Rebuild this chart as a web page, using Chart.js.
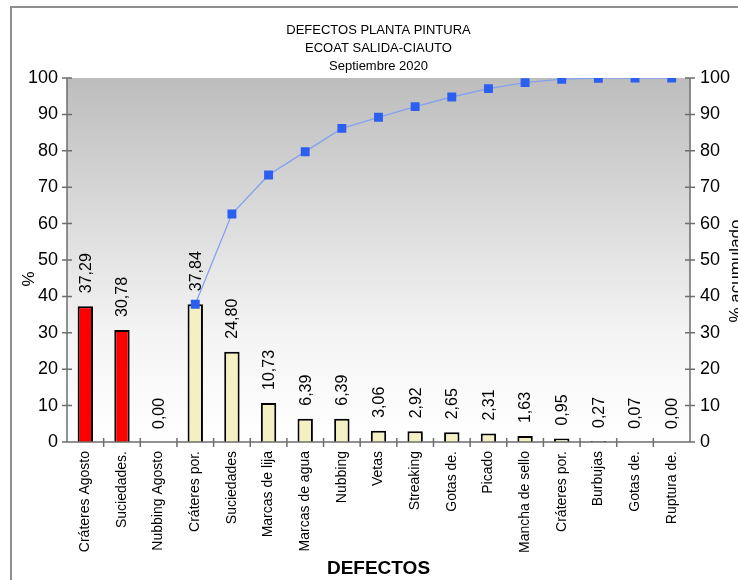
<!DOCTYPE html>
<html>
<head>
<meta charset="utf-8">
<script src="https://cdn.jsdelivr.net/npm/chart.js@4/dist/chart.umd.min.js"></script>
<style>
  html, body { margin: 0; padding: 0; background: #ffffff; }
  canvas { display: block; }
</style>
</head>
<body>
<canvas id="pareto" width="738" height="580"></canvas>
<script>
// Defect categories along the x axis
const categories = [
  'Cráteres Agosto', 'Suciedades.', 'Nubbing Agosto',
  'Cráteres por.', 'Suciedades', 'Marcas de lija', 'Marcas de agua', 'Nubbing',
  'Vetas', 'Streaking', 'Gotas de.', 'Picado', 'Mancha de sello',
  'Cráteres por.', 'Burbujas', 'Gotas de.', 'Ruptura de.'
];

// August reference values (first three categories), %
const agosto = [37.29, 30.78, 0.00];

// September values (remaining categories), %
const septiembre = [37.84, 24.80, 10.73, 6.39, 6.39, 3.06, 2.92, 2.65, 2.31, 1.63, 0.95, 0.27, 0.07, 0.00];

// Cumulative September percentage (Pareto curve)
const acumulado = [37.84, 62.64, 73.37, 79.76, 86.15, 89.21, 92.13, 94.78, 97.09, 98.72, 99.67, 99.94, 100.00, 100.00];

// Axis range shared by both value axes
const axisMin = 0;
const axisMax = 100;
const axisStep = 10;

const titleLines = ['DEFECTOS PLANTA PINTURA', 'ECOAT SALIDA-CIAUTO', 'Septiembre 2020'];

const FONT = '"Liberation Sans", Arial, Helvetica, sans-serif';

// Pad each series to the full category list
const nAgo = agosto.length;
const agostoData = categories.map((_, i) => (i < nAgo ? agosto[i] : null));
const septData = categories.map((_, i) => (i >= nAgo ? septiembre[i - nAgo] : null));
const acumData = categories.map((_, i) => (i >= nAgo ? acumulado[i - nAgo] : null));

// Frame, plot background gradient, axis lines with crossing ticks, and axis titles
const decorations = {
  id: 'decorations',
  beforeDraw(chart) {
    const { ctx, chartArea: a } = chart;
    ctx.save();
    const g = ctx.createLinearGradient(0, a.top, 0, a.bottom);
    g.addColorStop(0, '#bdbdbd');
    g.addColorStop(0.7, '#f4f4f4');
    g.addColorStop(1, '#ffffff');
    ctx.fillStyle = g;
    ctx.fillRect(a.left, a.top, a.right - a.left, a.bottom - a.top);

    // outer frame
    ctx.strokeStyle = '#8e8e8e';
    ctx.lineWidth = 2;
    ctx.beginPath();
    ctx.moveTo(11, 600);
    ctx.lineTo(11, 7);
    ctx.lineTo(760, 7);
    ctx.stroke();
    ctx.restore();
  },
  afterDraw(chart) {
    const { ctx, chartArea: a, scales } = chart;
    const x = scales.x, y = scales.y, y2 = scales.y2;
    ctx.save();
    ctx.strokeStyle = '#6e6e6e';
    ctx.lineWidth = 1.5;
    ctx.beginPath();
    // left axis with crossing ticks
    ctx.moveTo(a.left, a.top);
    ctx.lineTo(a.left, a.bottom);
    for (let v = axisMin; v <= axisMax; v += axisStep) {
      const py = y.getPixelForValue(v);
      ctx.moveTo(a.left - 5, py);
      ctx.lineTo(a.left + 5, py);
    }
    // right axis with crossing ticks
    ctx.moveTo(a.right, a.top);
    ctx.lineTo(a.right, a.bottom);
    for (let v = axisMin; v <= axisMax; v += axisStep) {
      const py = y2.getPixelForValue(v);
      ctx.moveTo(a.right - 5, py);
      ctx.lineTo(a.right + 5, py);
    }
    // category axis with ticks between categories
    ctx.moveTo(a.left, a.bottom);
    ctx.lineTo(a.right, a.bottom);
    for (let i = 1; i < categories.length; i++) {
      const px = (x.getPixelForValue(i - 1) + x.getPixelForValue(i)) / 2;
      ctx.moveTo(px, a.bottom - 4);
      ctx.lineTo(px, a.bottom + 5);
    }
    ctx.stroke();

    // vertical axis titles
    ctx.fillStyle = '#000';
    ctx.font = '17px ' + FONT;
    ctx.textAlign = 'center';
    ctx.textBaseline = 'middle';
    ctx.save();
    ctx.translate(29, 279);
    ctx.rotate(-Math.PI / 2);
    ctx.fillText('%', 0, 0);
    ctx.restore();

    ctx.save();
    ctx.translate(741, 271);
    ctx.rotate(-Math.PI / 2);
    ctx.textBaseline = 'alphabetic';
    ctx.fillText('% acumulado', 0, 0);
    ctx.restore();
    ctx.restore();
  }
};

// Rotated value labels above each bar
const barLabels = {
  id: 'barLabels',
  afterDatasetsDraw(chart) {
    const { ctx } = chart;
    ctx.save();
    ctx.fillStyle = '#000';
    ctx.font = '16px ' + FONT;
    ctx.textAlign = 'left';
    ctx.textBaseline = 'middle';
    chart.data.datasets.forEach((ds, di) => {
      if (ds.type !== 'bar') return;
      const meta = chart.getDatasetMeta(di);
      meta.data.forEach((el, i) => {
        const v = ds.data[i];
        if (v === null || v === undefined) return;
        ctx.save();
        ctx.translate(el.x + 1, el.y - 13);
        ctx.rotate(-Math.PI / 2);
        ctx.fillText(v.toFixed(2).replace('.', ','), 0, 0);
        ctx.restore();
      });
    });
    ctx.restore();
  }
};

new Chart(document.getElementById('pareto'), {
  data: {
    labels: categories,
    datasets: [
      {
        type: 'line',
        label: '% acumulado',
        data: acumData,
        yAxisID: 'y2',
        borderColor: '#84a0ee',
        borderWidth: 1.3,
        pointStyle: 'rect',
        pointRadius: 6.3,
        pointBorderWidth: 0,
        pointBackgroundColor: '#2b5ff0',
        spanGaps: false,
        order: 0
      },
      {
        type: 'bar',
        label: 'Agosto',
        data: agostoData,
        yAxisID: 'y',
        backgroundColor: '#ff0000',
        borderColor: '#000000',
        borderWidth: 2,
        borderSkipped: 'bottom',
        grouped: false,
        barPercentage: 0.42,
        categoryPercentage: 1,
        order: 1
      },
      {
        type: 'bar',
        label: 'Septiembre',
        data: septData,
        yAxisID: 'y',
        backgroundColor: '#f3f0c3',
        borderColor: '#000000',
        borderWidth: 2,
        borderSkipped: 'bottom',
        grouped: false,
        barPercentage: 0.42,
        categoryPercentage: 1,
        order: 1
      }
    ]
  },
  options: {
    responsive: false,
    animation: false,
    layout: { padding: 0 },
    plugins: {
      legend: { display: false },
      tooltip: { enabled: false },
      title: {
        display: true,
        fullSize: false,
        text: titleLines,
        color: '#000',
        font: { family: FONT, size: 13, weight: 'normal', lineHeight: 18 / 13 },
        padding: { top: 21, bottom: 3 }
      }
    },
    scales: {
      x: {
        type: 'category',
        offset: true,
        grid: { display: false, drawTicks: false },
        border: { display: false },
        ticks: {
          autoSkip: false,
          minRotation: 90,
          maxRotation: 90,
          padding: 9,
          color: '#000',
          font: { family: FONT, size: 14 }
        },
        title: {
          display: true,
          text: 'DEFECTOS',
          color: '#000',
          font: { family: FONT, size: 19, weight: 'bold', lineHeight: 1.2 },
          padding: { top: 0, bottom: 0 }
        },
        afterFit(scale) { scale.height = 138; }
      },
      y: {
        position: 'left',
        min: axisMin,
        max: axisMax,
        grid: { display: false, drawTicks: false },
        border: { display: false },
        ticks: {
          stepSize: axisStep,
          padding: 9,
          color: '#000',
          font: { family: FONT, size: 18 }
        },
        afterFit(scale) { scale.width = 67; }
      },
      y2: {
        position: 'right',
        min: axisMin,
        max: axisMax,
        grid: { display: false, drawTicks: false },
        border: { display: false },
        ticks: {
          stepSize: axisStep,
          padding: 10,
          color: '#000',
          font: { family: FONT, size: 18 }
        },
        afterFit(scale) { scale.width = 48; }
      }
    }
  },
  plugins: [decorations, barLabels]
});
</script>
</body>
</html>
